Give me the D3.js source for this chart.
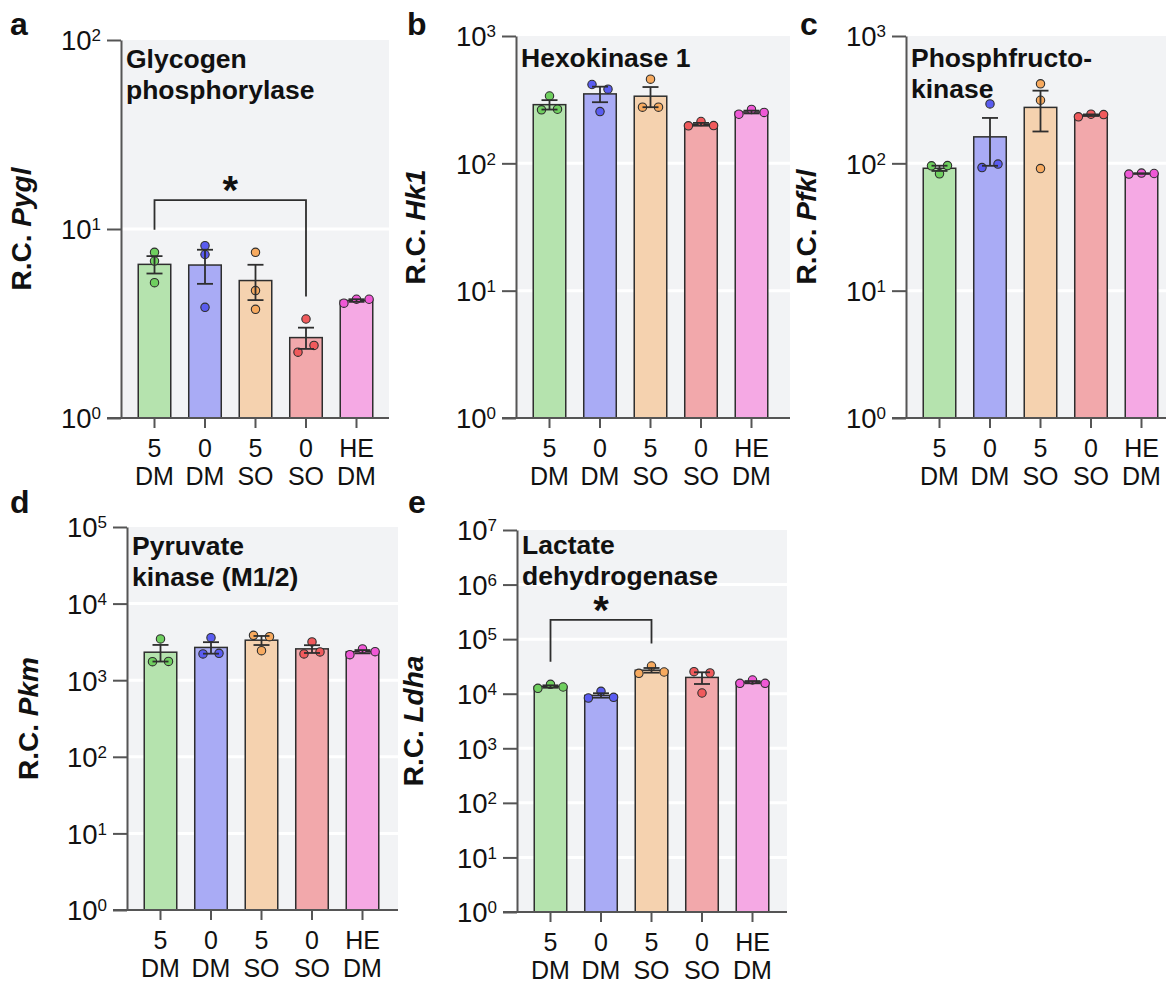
<!DOCTYPE html>
<html>
<head>
<meta charset="utf-8">
<script src="https://cdn.jsdelivr.net/npm/d3@7"></script>
<style>
  html, body { margin: 0; padding: 0; background: #ffffff; }
  svg { display: block; font-family: "Liberation Sans", Arial, Helvetica, sans-serif; }
</style>
</head>
<body>
<svg id="chart" width="1166" height="984"></svg>
<script>
// ---------------- DATA ----------------
const categories = ["5 DM", "0 DM", "5 SO", "0 SO", "HE DM"];
const barColors = ["#b5e3ae", "#a9abf5", "#f5d2af", "#f2a8ab", "#f5a9e4"];
const pointColors = ["#6fcf5f", "#5a5cf0", "#f7aa5f", "#f05a5c", "#ef58d6"];

const panelLetters = ["a", "b", "c", "d", "e"];
const panelTitles = [
  ["Glycogen", "phosphorylase"],
  ["Hexokinase 1"],
  ["Phosphfructo-", "kinase"],
  ["Pyruvate", "kinase (M1/2)"],
  ["Lactate", "dehydrogenase"]
];
const geneNames = ["Pygl", "Hk1", "Pfkl", "Pkm", "Ldha"];
const yMaxExponents = [2, 3, 3, 5, 7];

// replicate values (n = 3) per group
const pyglValues = [[7.53, 6.77, 5.2], [8.16, 7.33, 3.85], [7.53, 4.72, 3.76], [3.34, 2.23, 2.42], [4.05, 4.25, 4.25]];
const hk1Values  = [[338, 263, 266], [416, 382, 255], [458, 276, 276], [197, 213, 198], [243, 265, 251]];
const pfklValues = [[95.6, 96.0, 82.8], [293, 92.7, 98.6], [421, 313, 91], [232, 243, 241.5], [82.3, 83.8, 83.2]];
const pkmValues  = [[3454, 1746, 1760], [3594, 2200, 2240], [3853, 3703, 2432], [3157, 2200, 2339], [2155, 2558, 2358]];
const ldhaValues = [[12560, 14860, 13270], [8340, 11070, 8590], [23660, 32210, 25000], [25350, 23990, 10300], [15520, 17840, 15520]];

// significance brackets: panel index, group indices, bracket level (data units)
const sigPanels = [0, 4];
const sigFrom = [0, 0];
const sigTo = [3, 2];
const sigLevels = [14.2, 225000];
const sigLabels = ["*", "*"];

// ---------------- LAYOUT ----------------
const panelValues = [pyglValues, hk1Values, pfklValues, pkmValues, ldhaValues];
const layout = [
  { x0: 121, yTop: 40,  yBot: 418, xRight: 389, letterX: 10,  letterY: 35,  titleY: 68,  ylabX: 31 },
  { x0: 516, yTop: 36,  yBot: 418, xRight: 790, letterX: 407, letterY: 35,  titleY: 67,  ylabX: 425 },
  { x0: 906, yTop: 36,  yBot: 418, xRight: 1166, letterX: 800, letterY: 35, titleY: 67,  ylabX: 816 },
  { x0: 127, yTop: 527, yBot: 910, xRight: 398, letterX: 10,  letterY: 513, titleY: 555, ylabX: 38 },
  { x0: 517, yTop: 530, yBot: 912, xRight: 787, letterX: 408, letterY: 513, titleY: 554, ylabX: 423 }
];

const svg = d3.select("#chart");
const axisColor = "#555555";
const darkStroke = "#2e2e2e";

function mean(a) { return d3.mean(a); }
function sem(a) { return d3.deviation(a) / Math.sqrt(a.length); }

layout.forEach((L, pi) => {
  const g = svg.append("g");
  const values = panelValues[pi];
  const exp = yMaxExponents[pi];
  const y = d3.scaleLog().domain([1, Math.pow(10, exp)]).range([L.yBot, L.yTop]);
  const step = 50.5;
  const x = d3.scaleBand().domain(categories)
    .range([L.x0 + 8.25, L.x0 + 8.25 + step * 5])
    .paddingInner(0.356).paddingOuter(0.178);
  const bw = x.bandwidth();
  const cx = c => x(c) + bw / 2;

  // background
  g.append("rect").attr("x", L.x0).attr("y", L.yTop)
    .attr("width", L.xRight - L.x0).attr("height", L.yBot - L.yTop)
    .attr("fill", "#f2f3f5");

  // white gridlines at inner decades
  const decades = d3.range(0, exp + 1).map(e => Math.pow(10, e));
  g.selectAll(".grid").data(decades.slice(1, -1)).enter().append("line")
    .attr("x1", L.x0).attr("x2", L.xRight)
    .attr("y1", d => y(d)).attr("y2", d => y(d))
    .attr("stroke", "#ffffff").attr("stroke-width", 3);

  // bars
  g.selectAll(".bar").data(categories).enter().append("rect")
    .attr("x", c => x(c))
    .attr("y", (c, i) => y(mean(values[i])))
    .attr("width", bw)
    .attr("height", (c, i) => L.yBot - y(mean(values[i])))
    .attr("fill", (c, i) => barColors[i])
    .attr("stroke", darkStroke).attr("stroke-width", 1.5);

  // points with simple row spreading
  const r = 4.2;
  categories.forEach((c, i) => {
    const pts = values[i].map((v, k) => ({ v, k, py: y(v) }));
    const sorted = pts.slice().sort((a, b) => a.py - b.py);
    const rows = [];
    sorted.forEach(p => {
      const last = rows[rows.length - 1];
      if (last && p.py - last[0].py < 7.5) last.push(p); else rows.push([p]);
    });
    rows.forEach(row => {
      row.sort((a, b) => a.k - b.k);
      const n = row.length;
      const spacing = n === 2 ? 16 : 12.6;
      row.forEach((p, j) => { p.dx = (j - (n - 1) / 2) * spacing; });
    });
    g.selectAll(null).data(pts).enter().append("circle")
      .attr("cx", p => cx(c) + p.dx)
      .attr("cy", p => p.py)
      .attr("r", r)
      .attr("fill", pointColors[i])
      .attr("stroke", darkStroke).attr("stroke-width", 1.1);
  });

  // error bars (mean +/- SEM)
  categories.forEach((c, i) => {
    const m = mean(values[i]), s = sem(values[i]);
    const yHi = y(m + s), yLo = y(Math.max(m - s, 1e-9));
    const xc = cx(c);
    g.append("line").attr("x1", xc).attr("x2", xc).attr("y1", yHi).attr("y2", yLo)
      .attr("stroke", darkStroke).attr("stroke-width", 1.8);
    [yHi, yLo].forEach(yy => {
      g.append("line").attr("x1", xc - 8).attr("x2", xc + 8).attr("y1", yy).attr("y2", yy)
        .attr("stroke", darkStroke).attr("stroke-width", 1.8);
    });
  });

  // y axis
  const yAxis = d3.axisLeft(y).tickValues(decades).tickSize(14).tickSizeOuter(0).tickFormat(() => "");
  const ya = g.append("g").attr("transform", `translate(${L.x0},0)`).call(yAxis);
  ya.select(".domain").attr("stroke", axisColor).attr("stroke-width", 2);
  ya.selectAll(".tick line").attr("stroke", axisColor).attr("stroke-width", 2);
  ya.selectAll(".tick text").remove();
  ya.selectAll(".tick").each(function(d) {
    const t = d3.select(this).append("text")
      .attr("x", -20).attr("y", 9.8)
      .attr("text-anchor", "end")
      .attr("fill", "#111")
      .style("font-size", "27.5px");
    t.append("tspan").text("10");
    t.append("tspan").attr("dy", -9).style("font-size", "17px").text(String(Math.round(Math.log10(d))));
  });

  // x axis
  const xAxis = d3.axisBottom(x).tickSize(10).tickSizeOuter(0).tickFormat(() => "");
  const xa = g.append("g").attr("transform", `translate(0,${L.yBot})`).call(xAxis);
  xa.select(".domain").remove();
  xa.selectAll(".tick line").attr("stroke", axisColor).attr("stroke-width", 2);
  xa.selectAll(".tick text").remove();
  xa.selectAll(".tick").each(function(d) {
    const parts = d.split(" ");
    const t = d3.select(this);
    parts.forEach((p, j) => {
      t.append("text").attr("x", 0).attr("y", 38.5 + j * 28.5)
        .attr("text-anchor", "middle").attr("fill", "#111")
        .style("font-size", "25px").text(p);
    });
  });
  g.append("line").attr("x1", L.x0 - 14).attr("x2", L.xRight)
    .attr("y1", L.yBot).attr("y2", L.yBot)
    .attr("stroke", axisColor).attr("stroke-width", 2);

  // y axis title
  const yt = g.append("text")
    .attr("transform", `translate(${L.ylabX},${(L.yTop + L.yBot) / 2}) rotate(-90)`)
    .attr("text-anchor", "middle")
    .attr("fill", "#111")
    .style("font-size", "28px").style("font-weight", "bold");
  yt.append("tspan").text("R.C. ");
  yt.append("tspan").style("font-style", "italic").text(geneNames[pi]);

  // panel title
  panelTitles[pi].forEach((line, j) => {
    g.append("text").attr("x", L.x0 + 5).attr("y", L.titleY + j * 31)
      .attr("fill", "#111").style("font-size", "26.5px").style("font-weight", "bold")
      .text(line);
  });

  // panel letter
  g.append("text").attr("x", L.letterX).attr("y", L.letterY)
    .attr("fill", "#111").style("font-size", "32px").style("font-weight", "bold")
    .text(panelLetters[pi]);

  // significance brackets
  sigPanels.forEach((sp, si) => {
    if (sp !== pi) return;
    const a = sigFrom[si], b = sigTo[si];
    const xa1 = cx(categories[a]), xb1 = cx(categories[b]);
    const yb = y(sigLevels[si]);
    const legA = d3.min(values[a], v => y(v)) - 22.5;
    const legB = d3.min(values[b], v => y(v)) - 22.5;
    g.append("path")
      .attr("d", `M${xa1},${legA}V${yb}H${xb1}V${legB}`)
      .attr("fill", "none").attr("stroke", darkStroke).attr("stroke-width", 1.8);
    g.append("text").attr("x", (xa1 + xb1) / 2).attr("y", yb - 20 + 0.6 * 40)
      .attr("text-anchor", "middle").attr("fill", "#111")
      .style("font-size", "40px").style("font-weight", "bold")
      .text(sigLabels[si]);
  });
});
</script>
</body>
</html>
